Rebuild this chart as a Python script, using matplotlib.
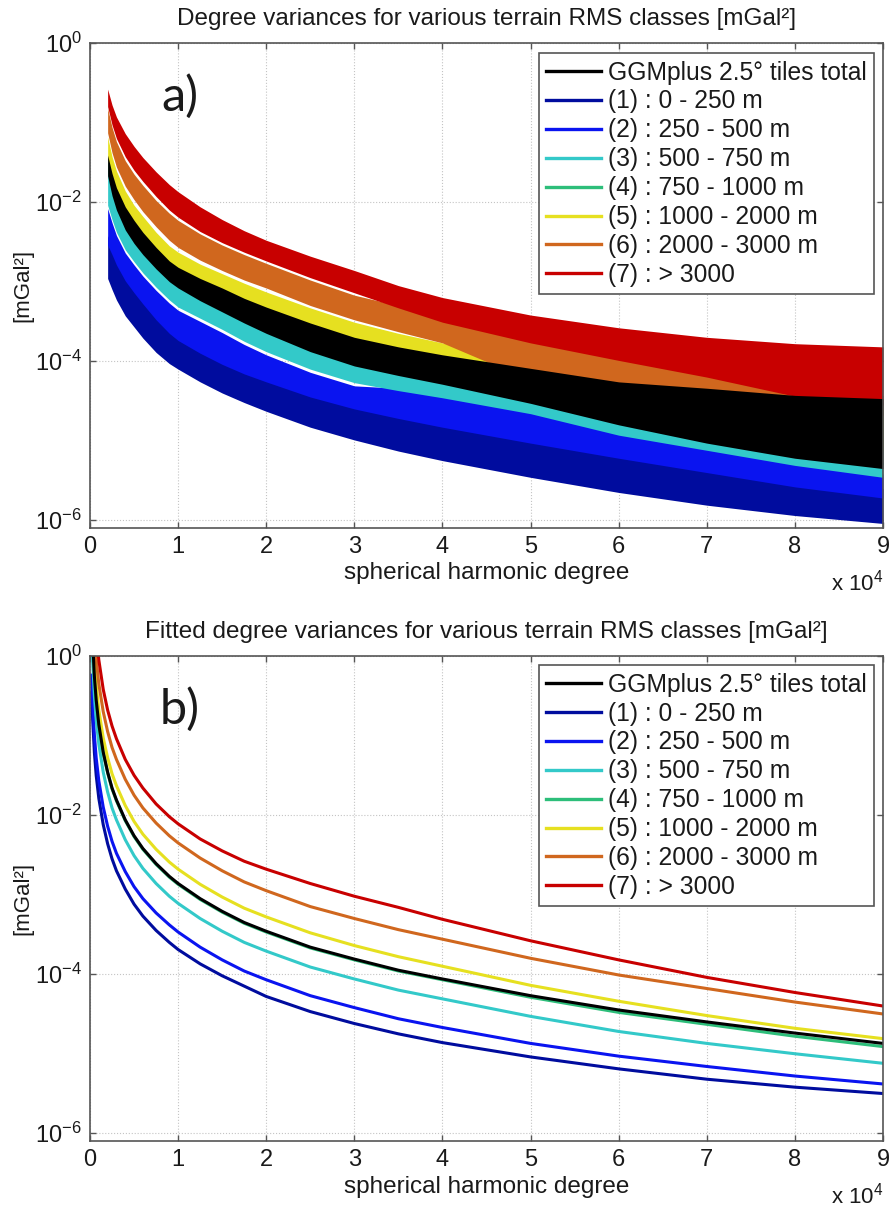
"""Degree variances per terrain RMS class: raw spectra (a) and fitted curves (b)."""

import matplotlib

matplotlib.use("Agg")
import matplotlib.pyplot as plt
from matplotlib.lines import Line2D
from matplotlib.ticker import NullLocator
import numpy as np

plt.rcParams["font.family"] = ["Liberation Sans", "DejaVu Sans"]
plt.rcParams["mathtext.fontset"] = "custom"
plt.rcParams["mathtext.rm"] = "Liberation Sans"
plt.rcParams["mathtext.it"] = "Liberation Sans:italic"
plt.rcParams["mathtext.bf"] = "Liberation Sans:bold"

# legend order: total first, then RMS classes (1)..(7)
LABELS = [
    "GGMplus 2.5° tiles total",
    "(1) : 0 - 250 m",
    "(2) : 250 - 500 m",
    "(3) : 500 - 750 m",
    "(4) : 750 - 1000 m",
    "(5) : 1000 - 2000 m",
    "(6) : 2000 - 3000 m",
    "(7) : > 3000",
]
COLORS = [
    "#000000",
    "#000C9E",
    "#0A14F0",
    "#33C9C9",
    "#2DBE7A",
    "#E6E020",
    "#D0671E",
    "#C80000",
]

# ---- panel a): upper / lower envelope of each band, log10(mGal^2) ----
deg_a = [2000, 2500, 3000, 4000, 5000, 6000, 7500, 9000, 10000, 12500, 15000,
         17500, 20000, 25000, 30000, 35000, 40000, 50000, 60000, 70000, 80000, 90000]

a_total_hi = [-1.41, -1.64, -1.82, -2.06, -2.23, -2.38, -2.57, -2.74, -2.82, -2.96, -3.08,
              -3.21, -3.32, -3.52, -3.70, -3.82, -3.92, -4.09, -4.26, -4.34, -4.43, -4.47]
a_total_lo = [-1.67, -1.92, -2.10, -2.35, -2.52, -2.66, -2.84, -3.00, -3.08, -3.24, -3.38,
              -3.52, -3.65, -3.88, -4.06, -4.18, -4.29, -4.53, -4.80, -5.03, -5.22, -5.35]
a_c1_hi = [-2.42, -2.54, -2.67, -2.87, -3.02, -3.16, -3.36, -3.53, -3.62, -3.78, -3.92,
           -4.04, -4.14, -4.33, -4.48, -4.60, -4.71, -4.91, -5.10, -5.28, -5.46, -5.60]
a_c1_lo = [-2.96, -3.10, -3.23, -3.43, -3.57, -3.71, -3.89, -4.03, -4.10, -4.26, -4.40,
           -4.52, -4.63, -4.83, -4.99, -5.13, -5.25, -5.46, -5.65, -5.81, -5.94, -6.04]
a_c2_hi = [-2.08, -2.26, -2.42, -2.64, -2.79, -2.93, -3.11, -3.27, -3.36, -3.50, -3.64,
           -3.79, -3.92, -4.14, -4.31, -4.34, -4.42, -4.62, -4.89, -5.08, -5.27, -5.42]
a_c2_lo = [-2.54, -2.66, -2.79, -2.99, -3.14, -3.28, -3.48, -3.65, -3.74, -3.90, -4.04,
           -4.16, -4.26, -4.45, -4.60, -4.72, -4.83, -5.03, -5.22, -5.40, -5.58, -5.72]
a_c3_hi = [-1.59, -1.84, -2.02, -2.27, -2.44, -2.58, -2.76, -2.92, -3.00, -3.16, -3.30,
           -3.44, -3.57, -3.80, -3.98, -4.10, -4.21, -4.45, -4.72, -4.95, -5.14, -5.27]
a_c3_lo = [-2.04, -2.22, -2.38, -2.60, -2.75, -2.89, -3.07, -3.23, -3.32, -3.46, -3.60,
           -3.75, -3.88, -4.10, -4.27, -4.37, -4.46, -4.66, -4.93, -5.12, -5.31, -5.46]
a_c4_hi = [-1.46, -1.69, -1.87, -2.11, -2.28, -2.43, -2.62, -2.79, -2.87, -3.01, -3.13,
           -3.26, -3.37, -3.57, -3.75, -3.87, -3.97, -4.14, -4.31, -4.39, -4.48, -4.52]
a_c4_lo = [-1.62, -1.87, -2.05, -2.30, -2.47, -2.61, -2.79, -2.95, -3.03, -3.19, -3.33,
           -3.47, -3.60, -3.83, -4.01, -4.13, -4.24, -4.48, -4.75, -4.98, -5.17, -5.30]
a_c5_hi = [-1.18, -1.43, -1.61, -1.86, -2.04, -2.18, -2.38, -2.55, -2.63, -2.78, -2.90,
           -3.02, -3.13, -3.33, -3.51, -3.65, -3.77, -3.99, -4.33, -4.43, -4.52, -4.59]
a_c5_lo = [-1.47, -1.72, -1.91, -2.17, -2.35, -2.50, -2.70, -2.88, -2.98, -3.11, -3.23,
           -3.36, -3.48, -3.70, -3.89, -4.00, -4.11, -4.36, -4.62, -4.81, -4.99, -5.12]
a_c6_hi = [-0.82, -1.06, -1.24, -1.48, -1.65, -1.79, -1.98, -2.14, -2.23, -2.40, -2.54,
           -2.66, -2.77, -2.98, -3.17, -3.30, -3.41, -3.65, -3.86, -4.08, -4.30, -4.43]
a_c6_lo = [-1.13, -1.38, -1.56, -1.80, -1.97, -2.12, -2.31, -2.48, -2.57, -2.73, -2.86,
           -2.98, -3.08, -3.30, -3.48, -3.63, -3.77, -4.24, -4.43, -4.55, -4.62, -4.68]
a_c7_hi = [-0.58, -0.78, -0.93, -1.14, -1.30, -1.44, -1.62, -1.78, -1.87, -2.06, -2.22,
           -2.36, -2.48, -2.68, -2.86, -3.05, -3.20, -3.42, -3.58, -3.70, -3.78, -3.82]
a_c7_lo = [-0.80, -1.03, -1.20, -1.43, -1.60, -1.74, -1.93, -2.10, -2.19, -2.37, -2.51,
           -2.63, -2.74, -2.95, -3.14, -3.33, -3.51, -3.77, -3.99, -4.20, -4.44, -4.55]

# ---- panel b): fitted curves, log10(mGal^2) ----
deg_b = [200, 300, 500, 700, 1000, 1500, 2000, 2500, 3000, 4000, 5000, 6000, 7500, 9000,
         10000, 12500, 15000, 17500, 20000, 25000, 30000, 35000, 40000, 50000, 60000,
         70000, 80000, 90000]

b_total = [0.54, 0.19, -0.26, -0.55, -0.86, -1.21, -1.46, -1.66, -1.81, -2.06, -2.26, -2.42,
           -2.61, -2.77, -2.86, -3.05, -3.21, -3.35, -3.46, -3.66, -3.81, -3.95, -4.06,
           -4.27, -4.45, -4.60, -4.74, -4.87]
b_c1 = [-0.46, -0.80, -1.22, -1.50, -1.79, -2.12, -2.36, -2.55, -2.70, -2.93, -3.12, -3.27,
        -3.45, -3.60, -3.69, -3.87, -4.02, -4.15, -4.28, -4.47, -4.62, -4.75, -4.86,
        -5.04, -5.19, -5.32, -5.42, -5.50]
b_c2 = [-0.24, -0.58, -1.00, -1.28, -1.57, -1.90, -2.14, -2.33, -2.48, -2.71, -2.90, -3.05,
        -3.23, -3.38, -3.47, -3.66, -3.82, -3.96, -4.07, -4.27, -4.42, -4.56, -4.67,
        -4.87, -5.03, -5.16, -5.28, -5.38]
b_c3 = [0.29, -0.06, -0.51, -0.80, -1.11, -1.46, -1.71, -1.91, -2.06, -2.31, -2.51, -2.67,
        -2.86, -3.02, -3.11, -3.30, -3.46, -3.60, -3.71, -3.91, -4.06, -4.20, -4.31,
        -4.53, -4.72, -4.87, -5.00, -5.12]
b_c4 = [0.53, 0.18, -0.27, -0.56, -0.87, -1.22, -1.47, -1.67, -1.82, -2.07, -2.27, -2.43,
        -2.62, -2.78, -2.87, -3.06, -3.22, -3.36, -3.47, -3.67, -3.82, -3.96, -4.07,
        -4.29, -4.48, -4.63, -4.78, -4.91]
b_c5 = [0.72, 0.37, -0.08, -0.37, -0.68, -1.03, -1.28, -1.48, -1.63, -1.88, -2.08, -2.24,
        -2.43, -2.59, -2.68, -2.87, -3.03, -3.17, -3.28, -3.48, -3.64, -3.78, -3.90,
        -4.14, -4.34, -4.52, -4.68, -4.81]
b_c6 = [1.05, 0.70, 0.25, -0.04, -0.35, -0.70, -0.95, -1.15, -1.30, -1.55, -1.75, -1.91,
        -2.10, -2.26, -2.35, -2.54, -2.70, -2.84, -2.95, -3.15, -3.30, -3.44, -3.56,
        -3.80, -4.01, -4.18, -4.35, -4.50]
b_c7 = [1.35, 1.00, 0.55, 0.26, -0.05, -0.42, -0.68, -0.88, -1.04, -1.30, -1.50, -1.66,
        -1.86, -2.02, -2.11, -2.30, -2.45, -2.58, -2.68, -2.86, -3.02, -3.16, -3.31,
        -3.58, -3.82, -4.04, -4.23, -4.40]

# draw order: classes 1..7 first, total last (on top)
A_BANDS = [
    (1, a_c1_lo, a_c1_hi),
    (2, a_c2_lo, a_c2_hi),
    (3, a_c3_lo, a_c3_hi),
    (4, a_c4_lo, a_c4_hi),
    (5, a_c5_lo, a_c5_hi),
    (6, a_c6_lo, a_c6_hi),
    (7, a_c7_lo, a_c7_hi),
    (0, a_total_lo, a_total_hi),
]
B_CURVES = [(1, b_c1), (2, b_c2), (3, b_c3), (4, b_c4),
            (5, b_c5), (6, b_c6), (7, b_c7), (0, b_total)]

TEXT_COLOR = "#1a1a1a"
AXIS_COLOR = "#555555"


def _style(ax, title, tag, legend_top):
    ax.set_yscale("log")
    ax.set_xlim(0, 9)
    ax.set_ylim(8e-7, 1)
    ax.set_xticks(range(10))
    ax.set_yticks([1e-6, 1e-4, 1e-2, 1e0])
    ax.yaxis.set_minor_locator(NullLocator())
    ax.tick_params(direction="in", top=True, right=True, length=4, width=1.0,
                   color=AXIS_COLOR, labelcolor=TEXT_COLOR, labelsize=17, pad=6)
    for sp in ax.spines.values():
        sp.set_color(AXIS_COLOR)
        sp.set_linewidth(1.2)
    ax.grid(True, which="major", linestyle=":", linewidth=0.8, color="#c4c4c4")
    ax.set_axisbelow(True)
    ax.set_title(title, fontsize=17.5, color=TEXT_COLOR, pad=13)
    ax.set_xlabel("spherical harmonic degree", fontsize=17.5, color=TEXT_COLOR, labelpad=3)
    ax.set_ylabel("[mGal²]", fontsize=16, color=TEXT_COLOR)
    ax.yaxis.set_label_coords(-0.071, 0.5)
    ax.text(1.0, -0.085, r"x 10$^{4}$", transform=ax.transAxes, ha="right", va="top",
            fontsize=16, color=TEXT_COLOR)
    ax.text(0.1135, 0.889, tag, transform=ax.transAxes, ha="center", va="center",
            fontsize=35, family=["Lato", "DejaVu Sans"], color=TEXT_COLOR)

    handles = [Line2D([], [], color=c, lw=2.4) for c in COLORS]
    leg = ax.legend(handles, LABELS, loc="upper right", bbox_to_anchor=(0.9887, legend_top),
                    borderaxespad=0.0, fontsize=17.7, frameon=True, fancybox=False,
                    framealpha=1.0, edgecolor=AXIS_COLOR, handlelength=2.2,
                    handletextpad=0.3, labelspacing=0.2, borderpad=0.3)
    leg.get_frame().set_linewidth(1.2)
    for t in leg.get_texts():
        t.set_color(TEXT_COLOR)


fig = plt.figure(figsize=(8.93, 12.11), dpi=100)
ax_a = fig.add_axes([0.1008, 0.5640, 0.8880, 0.4005])
ax_b = fig.add_axes([0.1008, 0.0578, 0.8880, 0.4005])

xa = np.asarray(deg_a) / 1e4
for idx, lo, hi in A_BANDS:
    ax_a.fill_between(xa, 10.0 ** np.asarray(lo), 10.0 ** np.asarray(hi),
                      color=COLORS[idx], linewidth=0)

xb = np.asarray(deg_b) / 1e4
for idx, vals in B_CURVES:
    ax_b.plot(xb, 10.0 ** np.asarray(vals), color=COLORS[idx], lw=2.2)

_style(ax_a, "Degree variances for various terrain RMS classes [mGal²]", "a)", 0.979)
_style(ax_b, "Fitted degree variances for various terrain RMS classes [mGal²]", "b)", 0.981)

fig.savefig("out.png", dpi=100)
